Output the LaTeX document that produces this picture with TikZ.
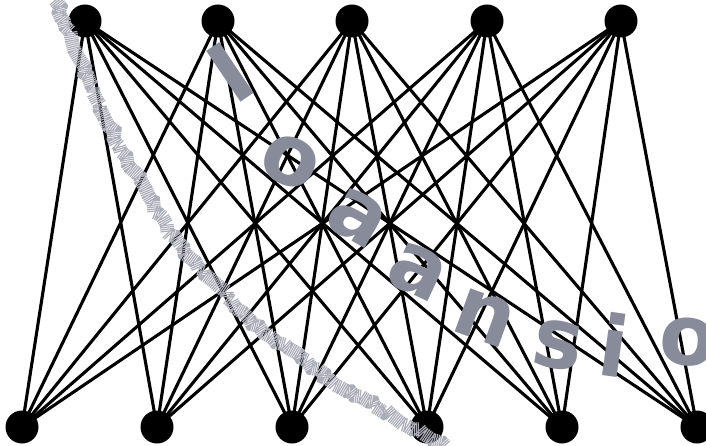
\documentclass[tikz,border=0pt]{standalone}
\usepackage{fontspec}
\setsansfont{DejaVu Sans}
\usetikzlibrary{decorations.pathmorphing}
\definecolor{wmgray}{HTML}{878B9A}
\begin{document}
\begin{tikzpicture}[x=1pt,y=-1pt,
  vert/.style={circle,fill=black,inner sep=0pt,minimum size=33pt},
  edge/.style={line width=3.1pt,black},
  wm/.style={text=wmgray,font=\fontsize{84}{84}\selectfont\sffamily\bfseries,inner sep=0pt},
  stip/.style={line width=14pt,wmgray!70,dash pattern=on 1.2pt off 0.8pt,
    decorate,decoration={random steps,segment length=6pt,amplitude=2.5pt}}]
\useasboundingbox (0,0) rectangle (706,446);
\clip (0,0) rectangle (706,446);
\foreach \i/\x in {1/85,2/218,3/352,4/487,5/621}
  \coordinate (t\i) at (\x,21);
\foreach \j/\x in {1/22,2/157,3/292,4/427,5/562,6/697}
  \coordinate (b\j) at (\x,427);
\foreach \i in {1,...,5}
  \foreach \j in {1,...,6}
    \draw[edge] (t\i) -- (b\j);
\foreach \i in {1,...,5}
  \node[vert] (T\i) at (t\i) {};
\foreach \j in {1,...,6}
  \node[vert] (B\j) at (b\j) {};
% stippled band
\draw[stip] (55,0) -- (100,110) -- (170,235) -- (250,320) -- (330,380) -- (445,446);
% watermark letters
\node[wm,rotate=34] (w1) at (230,72) {I};
\node[wm,rotate=-25] (w2) at (290,162) {o};
\node[wm,rotate=-30] (w3) at (358,218) {a};
\node[wm,rotate=-25] (w4) at (418,272) {a};
\node[wm,rotate=-20] (w5) at (485,318) {n};
\node[wm,rotate=-10] (w6) at (558,345) {s};
\node[wm,rotate=-8] (w7) at (614,345) {i};
\node[wm,rotate=-5] (w8) at (688,342) {o};
\end{tikzpicture}
\end{document}
